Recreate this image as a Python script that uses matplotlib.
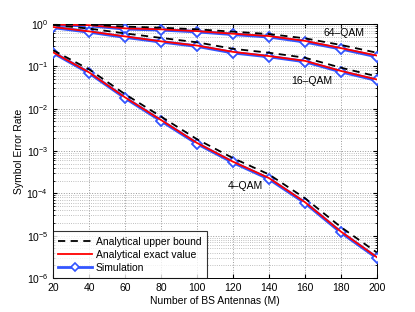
import numpy as np
import matplotlib.pyplot as plt
from matplotlib.ticker import LogLocator, NullFormatter

plt.rcParams['font.family'] = ['Liberation Sans', 'DejaVu Sans']

antennas = [20, 40, 60, 80, 100, 120, 140, 160, 180, 200]

# 64-QAM
bound_64 = [1.0, 0.97, 0.87, 0.82, 0.75, 0.66, 0.58, 0.46, 0.32, 0.21]
exact_64 = [0.97, 0.94, 0.79, 0.75, 0.68, 0.59, 0.52, 0.40, 0.27, 0.18]
sim_64 = [0.95, 0.92, 0.77, 0.73, 0.66, 0.57, 0.50, 0.38, 0.26, 0.17]

# 16-QAM
bound_16 = [0.95, 0.78, 0.60, 0.47, 0.37, 0.26, 0.21, 0.16, 0.093, 0.058]
exact_16 = [0.85, 0.67, 0.51, 0.39, 0.31, 0.22, 0.175, 0.135, 0.078, 0.049]
sim_16 = [0.83, 0.65, 0.49, 0.38, 0.30, 0.21, 0.17, 0.13, 0.075, 0.047]

# 4-QAM
bound_4 = [0.24, 0.085, 0.022, 0.0065, 0.0019, 6.8e-4, 2.8e-4, 7.7e-5, 1.6e-5, 4.0e-6]
exact_4 = [0.215, 0.072, 0.0185, 0.0054, 0.00155, 5.6e-4, 2.3e-4, 6.2e-5, 1.25e-5, 3.1e-6]
sim_4 = [0.21, 0.07, 0.018, 0.0052, 0.0015, 5.4e-4, 2.2e-4, 6.0e-5, 1.2e-5, 3.0e-6]

blue = '#3355ff'

fig = plt.figure(figsize=(4.15, 3.12), dpi=100)
ax = fig.add_axes([0.128, 0.109, 0.78, 0.814])

for bound, exact, sim in [(bound_64, exact_64, sim_64),
                          (bound_16, exact_16, sim_16),
                          (bound_4, exact_4, sim_4)]:
    ax.plot(antennas, sim, color=blue, lw=2.4, marker='D', ms=5,
            mfc='white', mec=blue, mew=1.3, zorder=3)
    ax.plot(antennas, exact, color='red', lw=1.3, zorder=4)
    ax.plot(antennas, bound, color='black', lw=1.3, ls=(0, (4, 3)), zorder=5)

# legend handles
h_bound, = ax.plot([], [], color='black', lw=1.3, ls=(0, (4, 3)))
h_exact, = ax.plot([], [], color='red', lw=1.3)
h_sim, = ax.plot([], [], color=blue, lw=2.0, marker='D', ms=4.5,
                 mfc='white', mec=blue, mew=1.2)
leg = ax.legend([h_bound, h_exact, h_sim],
                ['Analytical upper bound', 'Analytical exact value', 'Simulation'],
                loc='lower left', fontsize=7.5, frameon=True, fancybox=False,
                borderaxespad=0, handlelength=3.2, labelspacing=0.3,
                borderpad=0.5, handletextpad=0.4)
leg.get_frame().set_edgecolor('black')
leg.get_frame().set_linewidth(0.8)
leg.set_zorder(10)

ax.text(182, 0.63, '64\u2013QAM', fontsize=7.5, ha='center', va='center')
ax.text(164, 0.044, '16\u2013QAM', fontsize=7.5, ha='center', va='center')
ax.text(127, 1.5e-4, '4\u2013QAM', fontsize=7.5, ha='center', va='center')

ax.set_yscale('log')
ax.set_xlim(20, 200)
ax.set_ylim(1e-6, 1)
ax.set_xticks(antennas)
ax.yaxis.set_major_locator(LogLocator(base=10, numticks=10))
ax.yaxis.set_minor_locator(LogLocator(base=10, subs=np.arange(2, 10), numticks=10))
ax.yaxis.set_minor_formatter(NullFormatter())
ax.grid(True, which='major', ls=':', color='#999999', lw=0.7)
ax.grid(True, which='minor', axis='y', ls=':', color='#aaaaaa', lw=0.6)
ax.tick_params(which='both', direction='in', top=True, right=True, labelsize=7.5)
ax.tick_params(which='major', length=3)
ax.tick_params(which='minor', length=1.5)
for s in ax.spines.values():
    s.set_linewidth(0.7)

ax.set_xlabel('Number of BS Antennas (M)', fontsize=7.5, labelpad=2)
ax.set_ylabel('Symbol Error Rate', fontsize=7.5, labelpad=2)

fig.savefig('out.png', dpi=100)
